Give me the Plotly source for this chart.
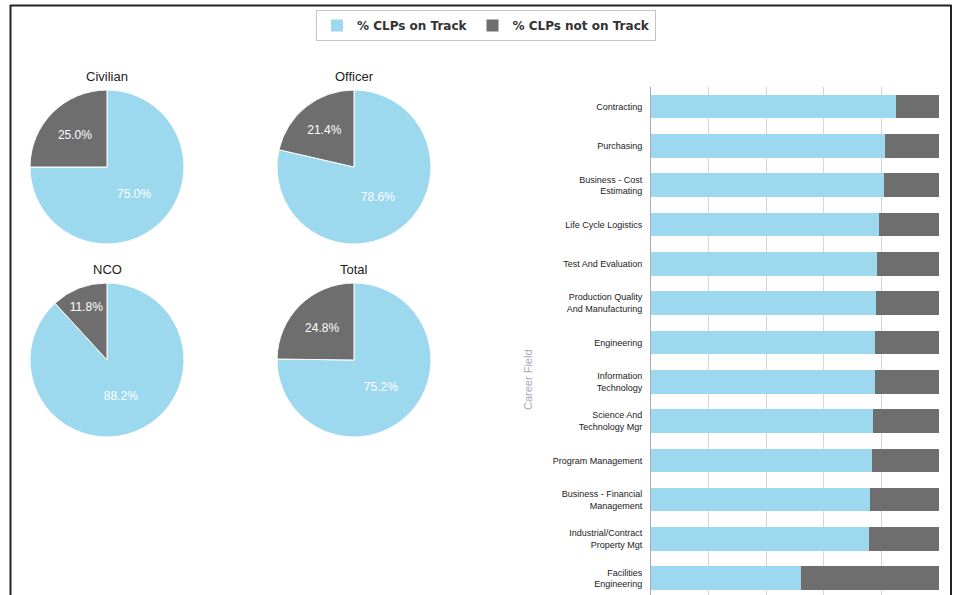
import plotly.graph_objects as go

W, H = 953, 595

# ---- data ----
pie_titles = ["Civilian", "Officer", "NCO", "Total"]
pie_on_track = [75.0, 78.6, 88.2, 75.2]
pie_not_on_track = [25.0, 21.4, 11.8, 24.8]
series_names = ["% CLPs on Track", "% CLPs not on Track"]

career_fields = [
    "Contracting", "Purchasing", "Business - Cost<br>Estimating", "Life Cycle Logistics",
    "Test And Evaluation", "Production Quality<br>And Manufacturing", "Engineering",
    "Information<br>Technology", "Science And<br>Technology Mgr", "Program Management",
    "Business - Financial<br>Management", "Industrial/Contract<br>Property Mgt",
    "Facilities<br>Engineering",
]
bar_on_track = [85.0, 81.2, 80.9, 79.2, 78.5, 78.2, 77.9, 77.9, 77.0, 76.6, 76.2, 75.6, 52.2]
bar_not_on_track = [15.0, 18.8, 19.1, 20.8, 21.5, 21.8, 22.1, 22.1, 23.0, 23.4, 23.8, 24.4, 47.8]

BLUE = "#9dd9ee"
GRAY = "#6e6e6e"
FONT = "Liberation Sans, Arial, sans-serif"

fig = go.Figure()

# pie centers in pixels
centers = [(107, 167), (354, 167), (107, 360), (354, 360)]
R = 77
for i, (cx, cy) in enumerate(centers):
    fig.add_trace(go.Pie(
        labels=series_names,
        values=[pie_on_track[i], pie_not_on_track[i]],
        marker=dict(colors=[BLUE, GRAY], line=dict(color="white", width=1)),
        sort=False, direction="clockwise", rotation=0,
        texttemplate="%{percent:.1%}", textposition="inside",
        insidetextfont=dict(color="white", size=12, family=FONT),
        domain=dict(x=[(cx - R) / W, (cx + R) / W], y=[1 - (cy + R) / H, 1 - (cy - R) / H]),
        showlegend=False, hoverinfo="label+percent",
    ))
    fig.add_annotation(text=pie_titles[i], x=cx / W, y=1 - (cy - R - 13) / H,
                       xref="paper", yref="paper", showarrow=False,
                       font=dict(size=13, color="#222", family=FONT), xanchor="center", yanchor="middle")

fig.add_trace(go.Bar(y=career_fields, x=bar_on_track, orientation="h", name=series_names[0],
                     marker=dict(color=BLUE, line=dict(width=0))))
fig.add_trace(go.Bar(y=career_fields, x=bar_not_on_track, orientation="h", name=series_names[1],
                     marker=dict(color=GRAY, line=dict(width=0))))

x0, x1 = 651, 939
ytop = 87
spacing = 39.3
span = (H - ytop) / spacing

fig.update_layout(
    width=W, height=H,
    margin=dict(l=0, r=0, t=0, b=0),
    paper_bgcolor="white", plot_bgcolor="white",
    barmode="stack", bargap=0.4,
    font=dict(family=FONT, color="#333"),
    xaxis=dict(domain=[x0 / W, x1 / W], range=[0, 100], dtick=20, showticklabels=False,
               showgrid=True, gridcolor="#d6d6d6", gridwidth=1, zeroline=False, showline=False,
               fixedrange=True),
    yaxis=dict(domain=[0, 1 - ytop / H], type="category", range=[span - 0.5, -0.5],
               showgrid=False, showline=True, linecolor="#a8a8b8", linewidth=1,
               ticks="", ticklabelstandoff=6, tickfont=dict(size=9, color="#222", family=FONT),
               automargin=False),
    legend=dict(orientation="h", x=486 / W, xanchor="center", y=1 - 10 / H, yanchor="top",
                traceorder="normal",
                bordercolor="#c4c4d0", borderwidth=1, bgcolor="white",
                font=dict(size=12, color="#333", family="DejaVu Sans", weight="bold"),
                itemsizing="constant"),
)

fig.add_annotation(text="Career Field", x=528 / W, y=1 - 380 / H, xref="paper", yref="paper",
                   showarrow=False, textangle=-90, font=dict(size=11, color="#a8a8c0", family=FONT))

# frame lines
fig.add_shape(type="line", xref="paper", yref="paper", x0=10.5 / W, x1=10.5 / W, y0=0, y1=1 - 5 / H,
              line=dict(color="#222", width=2))
fig.add_shape(type="line", xref="paper", yref="paper", x0=10 / W, x1=951.5 / W, y0=1 - 5.5 / H, y1=1 - 5.5 / H,
              line=dict(color="#222", width=2))
fig.add_shape(type="line", xref="paper", yref="paper", x0=951 / W, x1=951 / W, y0=0, y1=1 - 5 / H,
              line=dict(color="#222", width=2))

fig.write_html("out.html")
